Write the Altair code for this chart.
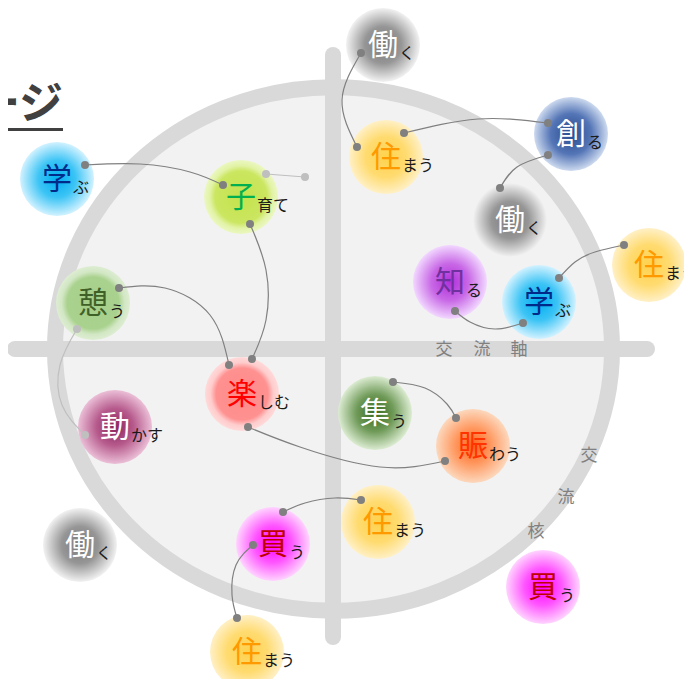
import altair as alt
import pandas as pd

FONT = "Noto Sans CJK JP"

# ---- bubbles ----
kanji = ["働", "住", "創", "働", "学", "子", "憩", "知", "学", "住",
         "楽", "動", "働", "買", "住", "集", "賑", "住", "買"]
suffix = ["く", "まう", "る", "く", "ぶ", "育て", "う", "る", "ぶ", "まう",
          "しむ", "かす", "く", "う", "まう", "う", "わう", "まう", "う"]
bub_x = [383, 386, 571, 510, 57, 241, 93, 450, 539, 649,
         242, 115, 80, 273, 247, 375, 473, 378, 543]
bub_y = [45, 157, 134, 220, 179, 197, 303, 282, 302, 265,
         394, 427, 545, 544, 652, 413, 446, 522, 587]

# ---- styles per kanji ----
style_kanji = ["働", "住", "創", "学", "子", "憩", "知", "楽", "動", "買", "集", "賑"]
kanji_color = ["#ffffff", "#ff9900", "#ffffff", "#002a8a", "#00b050", "#3f6128",
               "#7030a0", "#ff0000", "#ffffff", "#c00000", "#ffffff", "#ff3300"]
grad_stops = [
    [("#7a7a7a", 0), ("#969696", 0.5), ("#f2f2f2", 1)],
    [("#ffd24d", 0), ("#ffdb70", 0.55), ("#fff0c6", 1)],
    [("#274c8f", 0), ("#5475b6", 0.55), ("#cddaef", 1)],
    [("#00aef0", 0), ("#3cc4f5", 0.5), ("#d2f2ff", 1)],
    [("#c4e24c", 0), ("#cbe660", 0.7), ("#e2f3a6", 0.85), ("#ebf7c2", 1)],
    [("#a6cf8a", 0), ("#aad28f", 0.7), ("#d2e7c4", 0.85), ("#ddedd2", 1)],
    [("#b22fd9", 0), ("#c868e6", 0.5), ("#f2d8ff", 1)],
    [("#ff8a8a", 0), ("#ff9191", 0.7), ("#ffcccc", 0.85), ("#ffdada", 1)],
    [("#8a235d", 0), ("#b65a8c", 0.5), ("#ebbfd7", 1)],
    [("#ff00ff", 0), ("#ff55ff", 0.5), ("#ffd4ff", 1)],
    [("#386a1d", 0), ("#6f9a58", 0.5), ("#dcecd2", 1)],
    [("#ff641a", 0), ("#ff9a62", 0.5), ("#fcd8bd", 1)],
]

# ---- connectors (curves with dot ends) ----
conn_pts = [
    [(361, 53), (342, 100), (357, 147)],
    [(404, 133), (478, 119), (548, 123)],
    [(548, 155), (517, 167), (500, 188)],
    [(85, 165), (140, 164), (190, 172), (223, 185)],
    [(266, 174), (305, 177)],
    [(250, 224), (266, 270), (266, 320), (252, 359)],
    [(119, 288), (165, 288), (210, 315), (229, 365)],
    [(77, 329), (60, 365), (62, 405), (85, 435)],
    [(248, 427), (300, 447), (380, 467), (445, 461)],
    [(393, 382), (425, 388), (447, 404), (456, 418)],
    [(283, 512), (305, 503), (335, 498), (361, 500)],
    [(253, 545), (236, 565), (232, 595), (237, 618)],
    [(455, 311), (470, 322), (495, 329), (523, 323)],
    [(559, 278), (575, 262), (595, 252), (624, 245)],
]
conn_tone = ["dark", "dark", "dark", "dark", "light", "dark", "dark",
             "light", "dark", "dark", "dark", "dark", "dark", "dark"]

# ---- axis labels ----
axis_chars = ["交", "流", "軸", "交", "流", "核"]
axis_x = [444, 482, 519, 589, 566, 536]
axis_y = [350, 350, 350, 456, 498, 532]

title_text = "ージ"

# ---- frames ----
bub = pd.DataFrame({"k": kanji, "s": suffix, "x": bub_x, "y": bub_y})
rows = []
for i, pts in enumerate(conn_pts):
    for j, (px, py) in enumerate(pts):
        rows.append({"cid": i, "seq": j, "x": px, "y": py, "tone": conn_tone[i],
                     "end": j == 0 or j == len(pts) - 1})
conn = pd.DataFrame(rows)
axis_df = pd.DataFrame({"t": axis_chars, "x": axis_x, "y": axis_y})

XS = alt.Scale(domain=[8, 684], nice=False, zero=False)
YS = alt.Scale(domain=[8, 679], nice=False, zero=False, reverse=True)


def X(f="x"):
    return alt.X(f"{f}:Q", scale=XS, axis=None)


def Y(f="y"):
    return alt.Y(f"{f}:Q", scale=YS, axis=None)


# ellipse
ell_path = ("M -1 0 C -1 -0.519 -0.5523 -0.94 0 -0.94 C 0.5523 -0.94 1 -0.519 1 0 "
            "C 1 0.519 0.5523 0.94 0 0.94 C -0.5523 0.94 -1 0.519 -1 0 Z")
ellipse = alt.Chart(pd.DataFrame({"x": [333.5], "y": [349]})).mark_point(
    shape=ell_path, size=310249, filled=True, fill="#f2f2f2", stroke="#d9d9d9",
    strokeWidth=16, opacity=1, fillOpacity=1, strokeOpacity=1
).encode(x=X(), y=Y())

hbar = alt.Chart(pd.DataFrame({"x": [15], "x2": [647], "y": [349]})).mark_rule(
    strokeWidth=16, strokeCap="round", color="#d9d9d9"
).encode(x=X(), x2="x2:Q", y=Y())
vbar = alt.Chart(pd.DataFrame({"x": [333], "y": [55], "y2": [637]})).mark_rule(
    strokeWidth=16, strokeCap="round", color="#d9d9d9"
).encode(x=X(), y=Y(), y2="y2:Q")

axis_txt = alt.Chart(axis_df).mark_text(
    font=FONT, fontSize=17, color="#808080", baseline="middle", align="center"
).encode(x=X(), y=Y(), text="t:N")

bubble_layers = []
for k, stops in zip(style_kanji, grad_stops):
    grad = alt.RadialGradient(
        gradient="radial", x1=0.5, y1=0.5, r1=0, x2=0.5, y2=0.5, r2=0.5,
        stops=[alt.GradientStop(color=c, offset=o) for c, o in stops])
    bubble_layers.append(
        alt.Chart(bub).transform_filter(alt.datum.k == k).mark_circle(
            size=5476, fill=grad, opacity=1, strokeWidth=0
        ).encode(x=X(), y=Y())
    )

kanji_txt = alt.Chart(bub).mark_text(
    font=FONT, fontSize=30, baseline="middle", align="center", dy=1
).encode(
    x=X(), y=Y(), text="k:N",
    color=alt.Color("k:N", scale=alt.Scale(domain=style_kanji, range=kanji_color), legend=None),
)
suffix_txt = alt.Chart(bub).mark_text(
    font=FONT, fontSize=16, baseline="alphabetic", align="left", dx=16, dy=14, color="#1a1a1a"
).encode(x=X(), y=Y(), text="s:N")

title = alt.Chart(pd.DataFrame({"x": [63], "y": [106], "t": [title_text]})).mark_text(
    font=FONT, fontSize=44, fontWeight="bold", color="#404040", align="right", baseline="middle"
).encode(x=X(), y=Y(), text="t:N")
underline = alt.Chart(pd.DataFrame({"x": [0], "x2": [63], "y": [129.5]})).mark_rule(
    strokeWidth=3, color="#404040"
).encode(x=X(), x2="x2:Q", y=Y())

tone_colors = {"dark": "#808080", "light": "#bfbfbf"}
line_layers = []
dot_layers = []
for tone, col in tone_colors.items():
    line_layers.append(
        alt.Chart(conn).transform_filter(alt.datum.tone == tone).mark_line(
            interpolate="natural", strokeWidth=1.2, color=col
        ).encode(x=X(), y=Y(), detail="cid:N", order="seq:Q")
    )
    dot_layers.append(
        alt.Chart(conn).transform_filter((alt.datum.tone == tone) & alt.datum.end).mark_circle(
            size=64, opacity=1, color=col
        ).encode(x=X(), y=Y())
    )

chart = alt.layer(
    ellipse, hbar, vbar, axis_txt, *bubble_layers, kanji_txt, suffix_txt,
    title, underline, *line_layers, *dot_layers
).properties(
    width=676, height=671, padding=0, autosize=alt.AutoSizeParams(type="none")
).configure_view(stroke=None)

chart.save("out.html", embed_options={"renderer": "svg", "actions": False})
